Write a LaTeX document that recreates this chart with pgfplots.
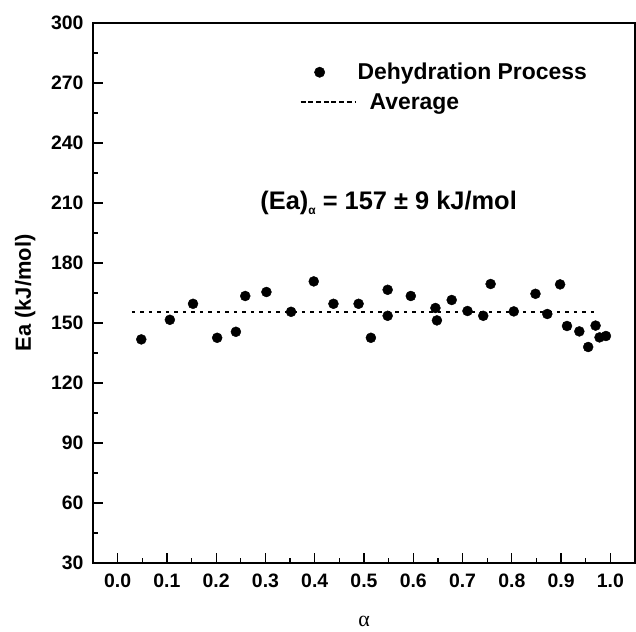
\documentclass[border=0pt]{standalone}
\usepackage{pgfplots}
\pgfplotsset{compat=1.18}
\usepackage{fontspec}
\setmainfont{Liberation Sans}
\newfontfamily\seriffont{Liberation Serif}
\begin{document}
\begin{tikzpicture}
\begin{axis}[
  name=ax,
  width=542bp, height=540bp, scale only axis,
  xmin=-0.05, xmax=1.05, ymin=30, ymax=300,
  xtick={0,0.1,0.2,0.3,0.4,0.5,0.6,0.7,0.8,0.9,1.0},
  xticklabels={0.0,0.1,0.2,0.3,0.4,0.5,0.6,0.7,0.8,0.9,1.0},
  minor xtick={0.05,0.15,0.25,0.35,0.45,0.55,0.65,0.75,0.85,0.95},
  ytick={30,60,90,120,150,180,210,240,270,300},
  minor ytick={45,75,105,135,165,195,225,255,285},
  tick align=inside, xtick pos=bottom, ytick pos=left,
  major tick length=10bp, minor tick length=5bp,
  every tick/.append style={black, line width=1.3bp},
  axis line style={line width=2bp},
  tick label style={font=\fontsize{19.5}{21}\selectfont\bfseries},
  xticklabel style={yshift=-7bp},
  yticklabel style={xshift=-6bp},
  /pgf/number format/assume math mode=true,
  ylabel={Ea (kJ/mol)},
  ylabel style={font=\fontsize{22}{24}\selectfont\bfseries, at={(axis description cs:-0.125,0.5)}, anchor=center},
  xlabel={\seriffont α},
  xlabel style={font=\fontsize{22}{24}\selectfont, at={(axis description cs:0.5,0)}, anchor=center, yshift=-58bp},
  clip=false,
  legend style={at={(axis cs:0.369,281)}, anchor=north west, draw=none, fill=none,
    inner sep=0pt, font=\fontsize{23}{25}\selectfont\bfseries, row sep=8bp,
    cells={anchor=west}},
]
\addplot[only marks, mark=*, mark size=5bp, black,
  legend image code/.code={\path (0bp,0bp) (54bp,0bp); \fill[black] (19bp,0bp) circle (5.2bp);}]
  table[row sep=\\] {
  x y\\
  0.048 141.8\\
  0.106 151.6\\
  0.153 159.6\\
  0.202 142.6\\
  0.240 145.6\\
  0.259 163.5\\
  0.302 165.5\\
  0.352 155.6\\
  0.398 170.8\\
  0.438 159.6\\
  0.489 159.6\\
  0.514 142.6\\
  0.548 166.6\\
  0.548 153.6\\
  0.595 163.5\\
  0.645 157.5\\
  0.648 151.3\\
  0.678 161.5\\
  0.710 156.0\\
  0.742 153.6\\
  0.757 169.5\\
  0.804 155.8\\
  0.848 164.6\\
  0.872 154.5\\
  0.898 169.3\\
  0.912 148.5\\
  0.937 145.8\\
  0.955 138.0\\
  0.970 148.7\\
  0.978 142.8\\
  0.991 143.5\\
};
\addlegendentry{Dehydration Process}
\addplot[black, line width=1.3bp, dash pattern=on 3.5bp off 5bp,
  legend image code/.code={\draw[black, line width=2bp, dash pattern=on 5bp off 2.7bp] (0bp,0bp) -- (54bp,0bp);}]
  coordinates {(0.029,155.5) (0.972,155.5)};
\addlegendentry{\hspace{12bp}Average}
\node[font=\fontsize{25.5}{27}\selectfont\bfseries] at (axis cs:0.55,210)
  {(Ea)\raisebox{-0.35ex}{\fontsize{12}{13}\selectfont α} = 157 ± 9 kJ/mol};
\end{axis}
\pgfresetboundingbox
\path[use as bounding box] ([xshift=-93bp,yshift=-69bp]ax.south west) rectangle ([xshift=1bp,yshift=23bp]ax.north east);
\end{tikzpicture}
\end{document}
